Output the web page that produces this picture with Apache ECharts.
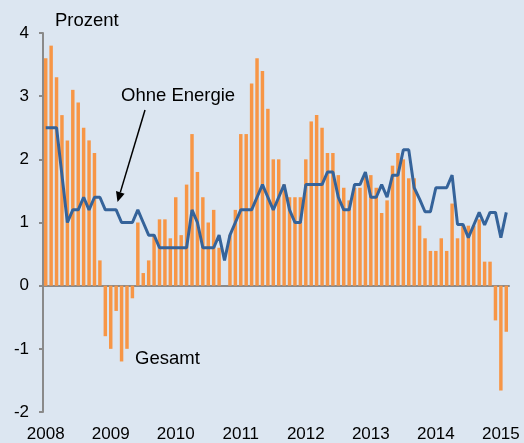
<!DOCTYPE html>
<html>
<head>
<meta charset="utf-8">
<title>Inflation</title>
<script src="https://cdn.jsdelivr.net/npm/echarts@6/dist/echarts.min.js"></script>
<style>
html,body{margin:0;padding:0;background:#dce6f1;}
#main{width:524px;height:443px;}
</style>
</head>
<body>
<div id="main"></div>
<script>
// Jahre auf der x-Achse, Monatswerte ab Januar 2008
var years = ['2008','2009','2010','2011','2012','2013','2014','2015'];
var gesamt = [
	3.6, 3.8, 3.3, 2.7, 2.3, 3.1, 2.9, 2.5, 2.3, 2.1, 0.4, -0.8,
	-1.0, -0.4, -1.2, -1.0, -0.2, 1.0, 0.2, 0.4, 0.8, 1.05, 1.05, 0.75,
	1.4, 0.8, 1.6, 2.4, 1.8, 1.4, 1.0, 1.2, 0.6, 0.0, 0.8, 1.2,
	2.4, 2.4, 3.2, 3.6, 3.4, 2.8, 2.0, 2.0, 1.6, 1.4, 1.4, 1.4,
	2.0, 2.6, 2.7, 2.5, 2.1, 2.1, 1.75, 1.55, 1.35, 1.55, 1.55, 1.75,
	1.75, 1.55, 1.15, 1.35, 1.9, 2.1, 2.0, 1.7, 1.7, 0.95, 0.75, 0.55,
	0.55, 0.75, 0.55, 1.3, 0.75, 0.95, 0.95, 0.95, 1.05, 0.38, 0.38, -0.55,
	-1.66, -0.73
];
var ohneEnergie = [
	2.5, 2.5, 2.5, 1.75, 1.0, 1.2, 1.2, 1.4, 1.2, 1.4, 1.4, 1.2,
	1.2, 1.2, 1.0, 1.0, 1.0, 1.2, 1.0, 0.8, 0.8, 0.6, 0.6, 0.6,
	0.6, 0.6, 0.6, 1.2, 1.0, 0.6, 0.6, 0.6, 0.8, 0.4, 0.8, 1.0,
	1.2, 1.2, 1.2, 1.4, 1.6, 1.4, 1.2, 1.4, 1.6, 1.2, 1.0, 1.0,
	1.6, 1.6, 1.6, 1.6, 1.8, 1.8, 1.4, 1.2, 1.2, 1.6, 1.6, 1.8,
	1.4, 1.4, 1.6, 1.4, 1.75, 1.75, 2.15, 2.15, 1.55, 1.37, 1.17, 1.17,
	1.55, 1.55, 1.55, 1.75, 0.97, 0.97, 0.76, 0.96, 1.16, 0.96, 1.16, 1.16,
	0.76, 1.16
];

var months = [];
for (var i = 0; i < gesamt.length; i++) {
	months.push(years[Math.floor(i / 12)] + '-' + (i % 12 + 1));
}
function isJan(index) { return index % 12 === 0; }

var font = '"Liberation Sans", Arial, sans-serif';
var axisGrey = '#8a8a8a';

var chart = echarts.init(document.getElementById('main'));
var option = {
	backgroundColor: '#dce6f1',
	animation: false,
	grid: { left: 43, right: 15, top: 33, bottom: 30 },
	xAxis: [{
		type: 'category',
		data: months,
		axisLine: { onZero: true, lineStyle: { color: axisGrey, width: 2 } },
		axisTick: { interval: isJan, length: 5, lineStyle: { color: axisGrey, width: 2 } },
		axisLabel: { show: false }
	}, {
		type: 'category',
		data: months,
		position: 'bottom',
		axisLine: { show: false, onZero: false },
		axisTick: { show: false },
		axisLabel: {
			interval: isJan,
			margin: 14,
			color: '#000',
			fontFamily: font,
			fontSize: 17,
			formatter: function (v) { return v.split('-')[0]; }
		}
	}],
	yAxis: {
		type: 'value',
		min: -2,
		max: 4,
		interval: 1,
		splitLine: { show: false },
		axisLine: { show: true, lineStyle: { color: axisGrey, width: 2 } },
		axisTick: { show: true, length: 4, lineStyle: { color: axisGrey, width: 2 } },
		axisLabel: { margin: 14, color: '#000', fontFamily: font, fontSize: 17 }
	},
	series: [{
		name: 'Gesamt',
		type: 'bar',
		data: gesamt,
		barCategoryGap: '36%',
		itemStyle: { color: '#f79646' }
	}, {
		name: 'Ohne Energie',
		type: 'line',
		data: ohneEnergie,
		symbol: 'none',
		z: 5,
		lineStyle: { color: '#35639a', width: 3 }
	}],
	graphic: [
		{ type: 'text', left: 55, top: 11, style: { text: 'Prozent', fill: '#000', font: '18.5px ' + font } },
		{ type: 'text', left: 121, top: 86, style: { text: 'Ohne Energie', fill: '#000', font: '18.5px ' + font } },
		{ type: 'text', left: 135, top: 349, style: { text: 'Gesamt', fill: '#000', font: '18.5px ' + font } },
		{ type: 'line', shape: { x1: 145, y1: 110, x2: 120.3, y2: 192.4 }, style: { stroke: '#000', lineWidth: 1.5 } },
		{ type: 'polygon', shape: { points: [[117.5, 202], [124.6, 193.7], [116.0, 191.1]] }, style: { fill: '#000' } }
	]
};
chart.setOption(option);
</script>
</body>
</html>
